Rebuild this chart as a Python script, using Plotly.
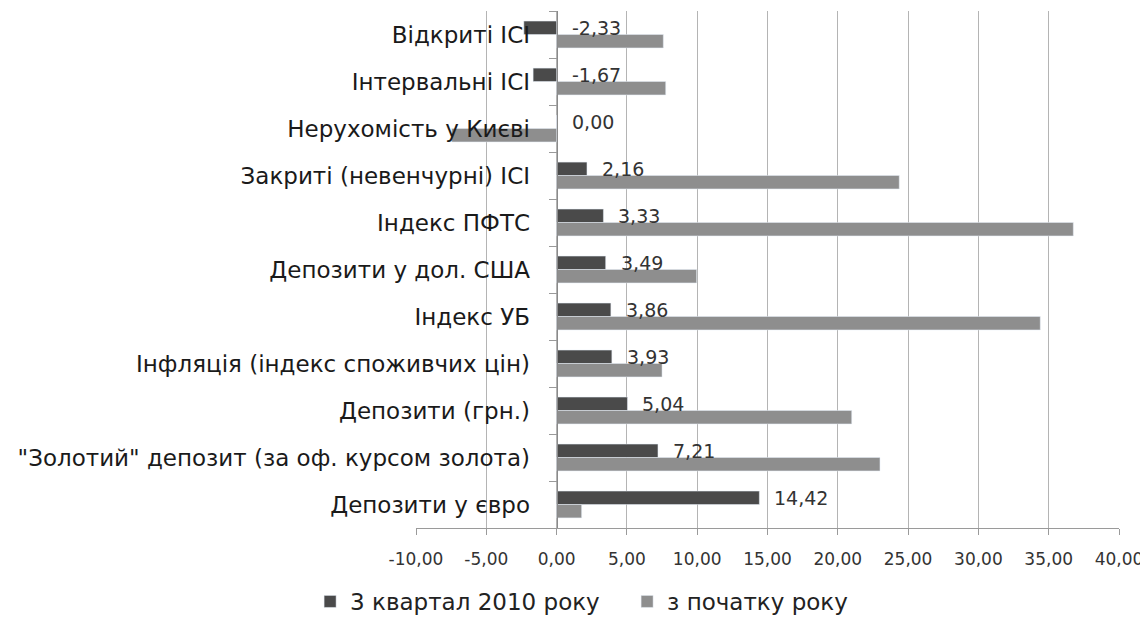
import plotly.graph_objects as go

categories = [
    "Відкриті ІСІ",
    "Інтервальні ІСІ",
    "Нерухомість у Києві",
    "Закриті (невенчурні) ІСІ",
    "Індекс ПФТС",
    "Депозити у дол. США",
    "Індекс УБ",
    "Інфляція (індекс споживчих цін)",
    "Депозити (грн.)",
    "\"Золотий\" депозит (за оф. курсом золота)",
    "Депозити у євро",
]
q3_2010 = [-2.33, -1.67, 0.00, 2.16, 3.33, 3.49, 3.86, 3.93, 5.04, 7.21, 14.42]
ytd = [7.59, 7.76, -7.46, 24.37, 36.75, 9.96, 34.4, 7.5, 20.99, 23.0, 1.78]
series_names = ["3 квартал 2010 року", "з початку року"]
x_ticks = [-10, -5, 0, 5, 10, 15, 20, 25, 30, 35, 40]
x_ticktext = [f"{t:.2f}".replace(".", ",") for t in x_ticks]

FONT = "DejaVu Sans"
DARK = "#4a4a4a"
LIGHT = "#8e8e8e"

fig = go.Figure()
fig.add_trace(go.Bar(y=categories, x=q3_2010, orientation="h", name=series_names[0],
                     marker=dict(color=DARK), hoverinfo="skip"))
fig.add_trace(go.Bar(y=categories, x=ytd, orientation="h", name=series_names[1],
                     marker=dict(color=LIGHT), hoverinfo="skip"))

for c, v in zip(categories, q3_2010):
    fig.add_annotation(x=max(v, 0), y=c, text=f"{v:.2f}".replace(".", ","),
                       showarrow=False, xanchor="left", xshift=13, yshift=7,
                       font=dict(family=FONT, size=19, color="#333333"))

fig.update_layout(
    width=1140, height=615,
    margin=dict(l=408, r=29, t=3, b=95, autoexpand=False),
    paper_bgcolor="white", plot_bgcolor="white",
    barmode="group", bargap=0.43, bargroupgap=0.0,
    showlegend=True,
    legend=dict(orientation="h", xref="container", x=0.265, xanchor="left",
                yref="container", y=-0.028, yanchor="bottom",
                font=dict(family=FONT, size=23, color="#222222"),
                entrywidth=272, entrywidthmode="pixels",
                traceorder="normal"),
    xaxis=dict(range=[-10, 40], tickvals=x_ticks, ticktext=x_ticktext,
               showgrid=True, gridcolor="#b4b4b4", gridwidth=1,
               zeroline=False, showline=True, linecolor="#9a9a9a",
               ticks="outside", ticklen=6, tickcolor="#9a9a9a",
               ticklabelstandoff=10, automargin=False,
               tickfont=dict(family=FONT, size=17, color="#333333"),
               fixedrange=True),
    yaxis=dict(autorange="reversed", type="category",
               anchor="free", position=0.2, automargin=False,
               showline=True, linecolor="#8a8a8a", showgrid=False,
               ticks="outside", tickson="boundaries", ticklen=8, tickcolor="#9a9a9a",
               ticklabelstandoff=22,
               tickfont=dict(family=FONT, size=23, color="#1a1a1a"),
               fixedrange=True),
)

fig.write_html("out.html")
